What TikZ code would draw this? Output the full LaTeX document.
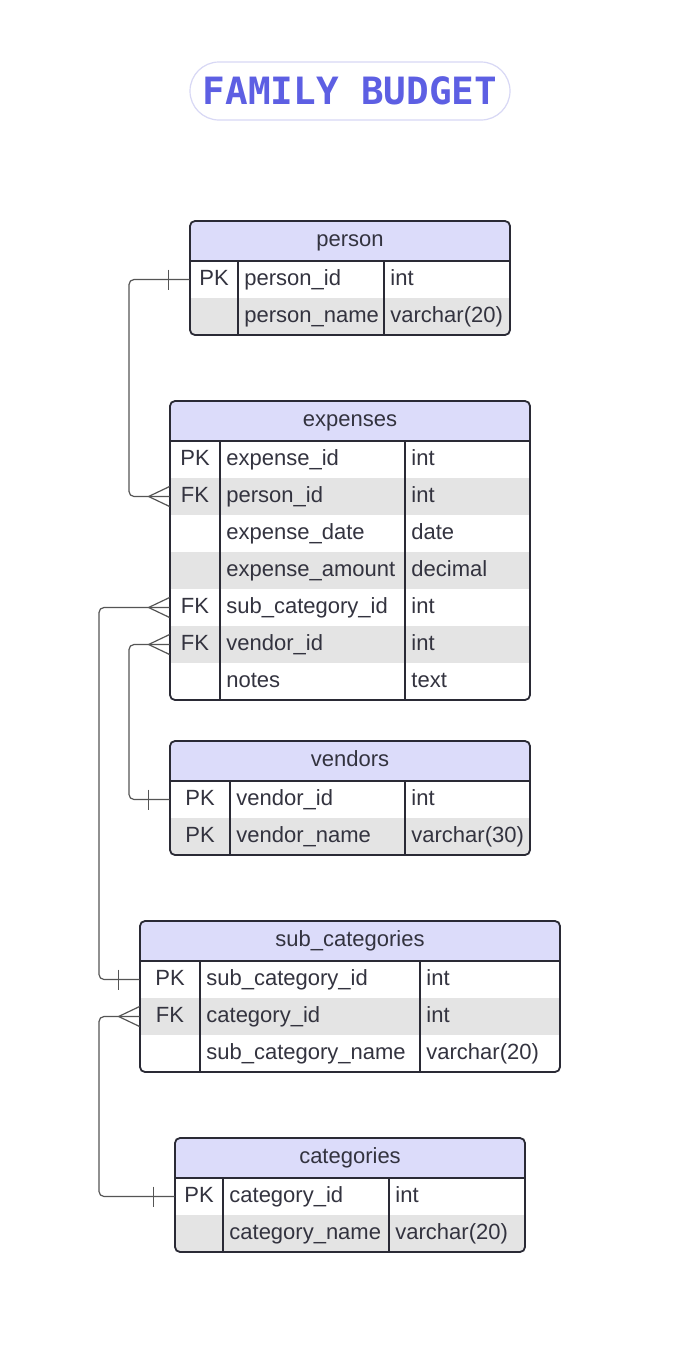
\documentclass[tikz,border=0pt]{standalone}
\usepackage{fontspec}
\setmainfont{Liberation Sans}
\newfontfamily\TitleFont{DejaVu Sans Mono}
\usepackage{xcolor}
\usepackage{tikz}
\definecolor{TableInk}{HTML}{2A2A35}
\definecolor{CellText}{HTML}{33333F}
\definecolor{HeadFill}{HTML}{DCDCFA}
\definecolor{RowShade}{HTML}{E4E4E4}
\definecolor{TitleInk}{HTML}{5D5FE3}
\definecolor{TitleRim}{HTML}{D8D8F5}
\definecolor{LinkInk}{HTML}{555555}
\tikzset{
  diagram/.style={x=0.5pt,y=-0.5pt,font=\fontsize{11}{13}\selectfont,text=CellText},
  titlepill/.style={draw=TitleRim,line width=0.6pt,rounded corners=14.5pt,minimum width=160pt,
    minimum height=29pt,text=TitleInk,font=\TitleFont\bfseries\fontsize{18.8}{22}\selectfont},
  headtext/.style={inner sep=0pt,text height=8pt,text depth=2.5pt},
  keycell/.style={inner sep=0pt,minimum height=18.5pt,text height=8pt,text depth=2.5pt},
  fieldtext/.style={anchor=west,inner sep=0pt,text height=8pt,text depth=2.5pt},
  rule/.style={draw=TableInk,line width=0.9pt},
  frame/.style={draw=TableInk,line width=0.9pt,rounded corners=2.5pt},
  link/.style={draw=LinkInk,line width=0.6pt,rounded corners=2.5pt},
}
% name, left, split1, split2, right, top, rows, title, fields
\newcommand{\ErTable}[9]{%
  \begin{scope}
    \clip[rounded corners=2.5pt] (#2,#6) rectangle (#5,{#6+40+#7*37});
    \fill[HeadFill] (#2,#6) rectangle (#5,{#6+40});
    \foreach \k/\f/\t/\shade [count=\i] in {#9}
      \fill[\shade] (#2,{#6+3+\i*37}) rectangle (#5,{#6+40+\i*37});
  \end{scope}
  \node[headtext] (#1) at ({(#2+#5)/2},{#6+20}) {#8};
  \foreach \k/\f/\t/\shade [count=\i] in {#9} {
    \node[keycell,minimum width={(#3-#2)*0.5pt}] (#1-k\i) at ({(#2+#3)/2},{#6+21.5+\i*37}) {\k};
    \node[fieldtext] (#1-f\i) at ({#3+6},{#6+21.5+\i*37}) {\f};
    \node[fieldtext] (#1-t\i) at ({#4+6},{#6+21.5+\i*37}) {\t};
  }
  \draw[rule] (#2,{#6+40}) -- (#5,{#6+40});
  \draw[rule] (#3,{#6+40}) -- (#3,{#6+40+#7*37});
  \draw[rule] (#4,{#6+40}) -- (#4,{#6+40+#7*37});
  \draw[frame] (#2,#6) rectangle (#5,{#6+40+#7*37});
}
\newcommand{\ManyEnd}[1]{\draw[link] ([xshift=-10.5pt]#1.west) -- ([yshift=5pt]#1.west)
  ([xshift=-10.5pt]#1.west) -- ([yshift=-5pt]#1.west);}
\newcommand{\OneEnd}[1]{\draw[link] ([xshift=-10.5pt,yshift=5pt]#1.west) -- ([xshift=-10.5pt,yshift=-5pt]#1.west);}

\begin{document}
\begin{tikzpicture}[diagram]
  \useasboundingbox[fill=white] (0,0) rectangle (700,1345);

  \node[titlepill] (title) at (350,91) {FAMILY BUDGET};

  \ErTable{person}{190}{238}{384}{510}{221}{2}{person}{
    PK/person\_id/int/white,
    {}/person\_name/varchar(20)/RowShade}
  \ErTable{expenses}{170}{220}{405}{530}{401}{7}{expenses}{
    PK/expense\_id/int/white,
    FK/person\_id/int/RowShade,
    {}/expense\_date/date/white,
    {}/expense\_amount/decimal/RowShade,
    FK/sub\_category\_id/int/white,
    FK/vendor\_id/int/RowShade,
    {}/notes/text/white}
  \ErTable{vendors}{170}{230}{405}{530}{741}{2}{vendors}{
    PK/vendor\_id/int/white,
    PK/vendor\_name/varchar(30)/RowShade}
  \ErTable{subcat}{140}{200}{420}{560}{921}{3}{sub\_categories}{
    PK/sub\_category\_id/int/white,
    FK/category\_id/int/RowShade,
    {}/sub\_category\_name/varchar(20)/white}
  \ErTable{categories}{175}{223}{389}{525}{1138}{2}{categories}{
    PK/category\_id/int/white,
    {}/category\_name/varchar(20)/RowShade}

  \coordinate (railA) at (129,0);
  \coordinate (railB) at (99,0);

  \draw[link] (person-k1.west) -- (railA |- person-k1.west) -- (railA |- expenses-k2.west) -- (expenses-k2.west);
  \draw[link] (expenses-k5.west) -- (railB |- expenses-k5.west) -- (railB |- subcat-k1.west) -- (subcat-k1.west);
  \draw[link] (expenses-k6.west) -- (railA |- expenses-k6.west) -- (railA |- vendors-k1.west) -- (vendors-k1.west);
  \draw[link] (subcat-k2.west) -- (railB |- subcat-k2.west) -- (railB |- categories-k1.west) -- (categories-k1.west);

  \OneEnd{person-k1}
  \ManyEnd{expenses-k2}
  \ManyEnd{expenses-k5}
  \ManyEnd{expenses-k6}
  \OneEnd{vendors-k1}
  \OneEnd{subcat-k1}
  \ManyEnd{subcat-k2}
  \OneEnd{categories-k1}
\end{tikzpicture}
\end{document}
